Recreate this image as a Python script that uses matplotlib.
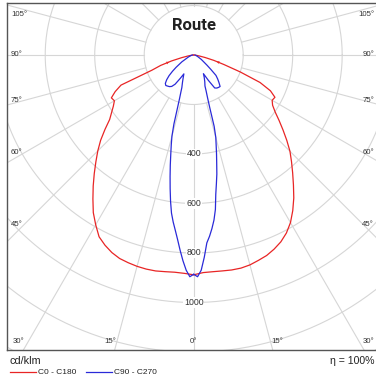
import matplotlib
matplotlib.use("Agg")
import matplotlib.pyplot as plt
import numpy as np
from matplotlib.lines import Line2D

# ---- data (cd/klm), angle from nadir in degrees
red_ang = [0, 2.5, 5, 7.5, 10, 12.5, 15, 17.5, 20, 22.5, 25, 27.5, 30, 32.5, 35,
           37.5, 40, 42.5, 45, 47.5, 50, 52.5, 55, 57.5, 60, 62.5, 65, 67.5, 70,
           72.5, 75, 77.5, 80, 85, 90]
red_c0 = [888, 880, 879, 880, 882, 882, 878, 870, 862, 849, 833, 811, 782, 745, 705,
          662, 622, 585, 550, 510, 471, 435, 402, 378, 366, 370, 342, 290, 200,
          128, 85, 48, 24, 8, 0]
red_c180 = [888, 883, 881, 883, 886, 886, 884, 880, 875, 864, 848, 828, 792, 755, 710,
            667, 625, 585, 548, 510, 468, 428, 405, 385, 370, 375, 350, 318, 180,
            140, 92, 50, 25, 8, 0]

blue_ang = [0, 1, 2, 3, 4, 5, 6, 7, 8, 9, 10, 11, 12, 13, 14, 15, 16, 17, 18, 19, 20,
            22.5, 25, 27.5, 30, 32.5, 35, 37.5, 40, 42.5, 45, 47.5, 50, 52.5, 55,
            60, 70, 80, 90]
blue_c90 = [886, 896, 870, 818, 761, 735, 705, 672, 630, 570, 528, 490, 447, 410, 375,
            345, 300, 220, 180, 155, 133, 117, 101, 85, 118, 158, 163, 165, 166, 151,
            137, 122, 90, 68, 52, 35, 16, 8, 5]
blue_c270 = [886, 896, 870, 832, 790, 748, 712, 680, 645, 598, 548, 500, 455, 412, 375,
             340, 290, 225, 185, 160, 140, 118, 100, 86, 110, 140, 155, 161, 164, 167,
             162, 148, 130, 108, 87, 55, 22, 10, 5]

rings = [200, 400, 600, 800, 1000, 1200, 1400, 1600, 1800]
ring_labels = [400, 600, 800, 1000]
angle_labels = ["105°", "90°", "75°", "60°", "45°"]
bottom_labels = ["30°", "15°", "0°", "15°", "30°"]

RED = "#e82525"
BLUE = "#2a2ad8"
GRID = "#d6d6d6"

# ---- layout (pixel geometry of the reference)
W, H = 376, 382
cx, cy, s = 193.7, 55.0, 0.2475   # centre in px, px per cd/klm


def px(xp, yp):
    return (xp - cx) / s, -(yp - cy) / s


fig = plt.figure(figsize=(W / 100, H / 100), dpi=100)
ax = fig.add_axes((7 / W, 1 - 350 / H, 370 / W, 347 / H))
x0, y0 = px(7, 350)
x1, y1 = px(377, 3)
ax.set_xlim(x0, x1)
ax.set_ylim(y0, y1)
ax.set_xticks([])
ax.set_yticks([])
for sp in ax.spines.values():
    sp.set_color("#555555")
    sp.set_linewidth(1.0)

# grid
t = np.linspace(0, 2 * np.pi, 400)
for r in rings:
    ax.plot(r * np.cos(t), r * np.sin(t), color=GRID, lw=0.8, zorder=1)
for a in range(0, 360, 15):
    ar = np.radians(a)
    ax.plot([200 * np.sin(ar), 3000 * np.sin(ar)], [-200 * np.cos(ar), -3000 * np.cos(ar)],
            color=GRID, lw=0.8, zorder=1)

for r in ring_labels:
    ax.text(0, -r, str(r), ha="center", va="center", fontsize=6.3, color="#333333",
            family="Liberation Sans", zorder=3,
            bbox=dict(facecolor="white", edgecolor="none", pad=0.6))


def half(ang, val, side):
    a = np.radians(np.array(ang))
    v = np.array(val, dtype=float)
    return side * v * np.sin(a), -v * np.cos(a)


for ang, val, side, col in [(red_ang, red_c0, 1, RED), (red_ang, red_c180, -1, RED),
                            (blue_ang, blue_c90, 1, BLUE), (blue_ang, blue_c270, -1, BLUE)]:
    xs, ys = half(ang, val, side)
    ax.plot(xs, ys, color=col, lw=0.9, zorder=4)

# direction arrows on the red curve
for val, side in [(red_c0, 1), (red_c180, -1)]:
    xs, ys = half(red_ang, val, side)
    i = red_ang.index(72.5)
    ax.annotate("", xy=(xs[i + 1], ys[i + 1]), xytext=(xs[i], ys[i]),
                arrowprops=dict(arrowstyle="-|>", color=RED, lw=0, mutation_scale=5),
                zorder=5)

# title
ax.text(*px(194, 25), "Route", ha="center", va="center", fontsize=12,
        fontweight="bold", family="Roboto", color="#222222", zorder=5)

# angle labels
lab_kw = dict(fontsize=5.6, color="#333333", family="Liberation Sans", va="center", zorder=5)
left_y = [15, 55, 100, 153, 225]
for lab, yy in zip(angle_labels, left_y):
    ax.text(*px(11, yy), lab, ha="left", **lab_kw)
    ax.text(*px(374, yy), lab, ha="right", **lab_kw)
bottom_x = [19, 110, 193, 277, 369]
for lab, xx in zip(bottom_labels, bottom_x):
    ax.text(*px(xx, 342), lab, ha="center", **lab_kw)

# footer
fig.text(10 / W, 1 - 361 / H, "cd/klm", fontsize=7.8, family="Liberation Sans",
         color="#222222", va="center", ha="left")
fig.text(375 / W, 1 - 361 / H, "η = 100%", fontsize=7.6, family="Liberation Sans",
         color="#222222", va="center", ha="right")
for (xa, xb, col, lab) in [(10, 36, RED, "C0 - C180"), (86, 112, BLUE, "C90 - C270")]:
    fig.add_artist(Line2D([xa / W, xb / W], [1 - 372 / H, 1 - 372 / H], color=col, lw=0.9))
    fig.text((xb + 1.5) / W, 1 - 372 / H, lab, fontsize=6, family="Liberation Sans",
             color="#222222", va="center", ha="left")

fig.savefig("out.png", dpi=100)
